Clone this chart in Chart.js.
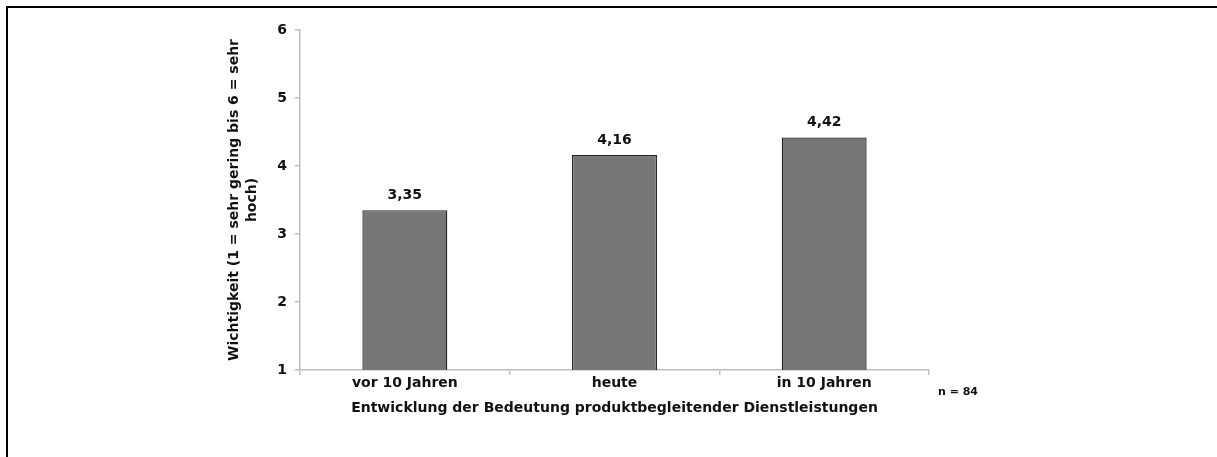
<!DOCTYPE html>
<html>
<head>
<meta charset="utf-8">
<script src="https://cdn.jsdelivr.net/npm/chart.js@4"></script>
<style>
    html, body { margin: 0; padding: 0; background: #fff; }
    #wrap { width: 1217px; height: 457px; position: relative; }
</style>
</head>
<body>
<div id="wrap"><canvas id="chart" width="1217" height="457"></canvas></div>
<script>
// values
const categories = ["vor 10 Jahren", "heute", "in 10 Jahren"];
const importance = [3.35, 4.16, 4.42];
const yTitle = ["Wichtigkeit (1 = sehr gering bis 6 = sehr", "hoch)"];
const xTitle = "Entwicklung der Bedeutung produktbegleitender Dienstleistungen";
const sampleNote = "n = 84";

const FONT = "'DejaVu Sans', 'Liberation Sans', Arial, sans-serif";

// frame line on top and left
const framePlugin = {
    id: 'frame',
    beforeDraw(chart) {
        const ctx = chart.ctx;
        ctx.save();
        ctx.fillStyle = '#000';
        ctx.fillRect(6, 6, 2, chart.height - 6);
        ctx.fillRect(6, 6, chart.width - 6, 2);
        ctx.restore();
    }
};

// value labels above the bars and the n note
const labelPlugin = {
    id: 'valueLabels',
    afterDatasetsDraw(chart) {
        const ctx = chart.ctx;
        const meta = chart.getDatasetMeta(0);
        ctx.save();
        ctx.font = "bold 14px " + FONT;
        ctx.fillStyle = '#111';
        ctx.textAlign = 'center';
        ctx.textBaseline = 'bottom';
        meta.data.forEach((bar, i) => {
            ctx.fillText(importance[i].toFixed(2).replace('.', ','), bar.x, bar.y - 8);
        });
        ctx.font = "bold 11px " + FONT;
        ctx.textAlign = 'left';
        ctx.textBaseline = 'middle';
        ctx.fillText(sampleNote, chart.chartArea.right + 9, 392);
        ctx.restore();
    }
};

new Chart(document.getElementById('chart'), {
    type: 'bar',
    data: {
        labels: categories,
        datasets: [{
            data: importance,
            backgroundColor: '#777777',
            borderColor: '#222222',
            borderWidth: 1.3,
            borderSkipped: false,
            barPercentage: 0.405,
            categoryPercentage: 1
        }]
    },
    options: {
        responsive: false,
        animation: false,
        layout: { padding: { left: 215, right: 288, top: 30, bottom: 0 } },
        plugins: {
            legend: { display: false },
            tooltip: { enabled: false }
        },
        scales: {
            x: {
                afterFit(scale) { scale.height = 87; },
                grid: { drawOnChartArea: false, drawTicks: true, tickLength: 5, color: '#bdbdbd', lineWidth: 1.5 },
                border: { color: '#bdbdbd', width: 1.5 },
                ticks: { color: '#111', padding: 0, font: { family: FONT, size: 14, weight: 'bold' }, maxRotation: 0 },
                title: { display: true, text: xTitle, color: '#111', padding: { top: 0, bottom: 40 }, font: { family: FONT, size: 14, weight: 'bold' } }
            },
            y: {
                min: 1,
                max: 6,
                afterFit(scale) { scale.width = 85; },
                grid: { drawOnChartArea: false, drawTicks: true, tickLength: 5, color: '#bdbdbd', lineWidth: 1.5 },
                border: { color: '#bdbdbd', width: 1.5 },
                ticks: { stepSize: 1, color: '#111', padding: 8, font: { family: FONT, size: 14, weight: 'bold' } },
                title: { display: true, text: yTitle, color: '#111', padding: { top: 10, bottom: 0 }, font: { family: FONT, size: 14, weight: 'bold', lineHeight: 1.3 } }
            }
        }
    },
    plugins: [framePlugin, labelPlugin]
});
</script>
</body>
</html>
